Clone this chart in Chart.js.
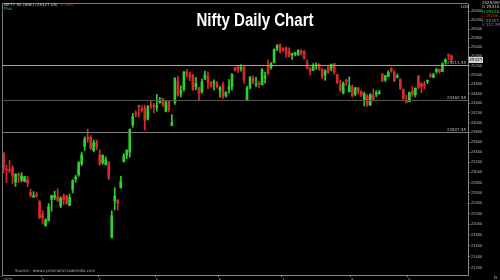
<!DOCTYPE html>
<html>
<head>
<meta charset="utf-8">
<script src="https://cdn.jsdelivr.net/npm/chart.js@4.4.1/dist/chart.umd.min.js"></script>
<style>
  html, body { margin: 0; padding: 0; background: #000; }
  #wrap { width: 500px; height: 280px; }
</style>
</head>
<body>
<div id="wrap"><canvas id="chart" width="500" height="280"></canvas></div>
<script>
// 日付 (2025年, 営業日)
const dates = [
  '02-11','02-12','02-13','02-14','02-17','02-18','02-19','02-20','02-21','02-24','02-25','02-27','02-28',
  '03-03','03-04','03-05','03-06','03-07','03-10','03-11','03-12','03-13','03-17','03-18','03-19','03-20','03-21','03-24','03-25','03-26','03-27','03-28',
  '04-01','04-02','04-03','04-04','04-07','04-08','04-09','04-11','04-15','04-16','04-17','04-21','04-22','04-23','04-24','04-25','04-28','04-29','04-30',
  '05-02','05-05','05-06','05-07','05-08','05-09','05-12','05-13','05-14','05-15','05-16','05-19','05-20','05-21','05-22','05-23','05-26','05-27','05-28','05-29','05-30',
  '06-02','06-03','06-04','06-05','06-06','06-09','06-10','06-11','06-12','06-13','06-16','06-17','06-18','06-19','06-20','06-23','06-24','06-25','06-26','06-27','06-30',
  '07-01','07-02','07-03','07-04','07-07','07-08','07-09','07-10','07-11','07-14','07-15','07-16','07-17','07-18','07-21','07-22','07-23','07-24','07-25','07-28','07-29','07-30','07-31',
  '08-01','08-04','08-05','08-06','08-07','08-08','08-11','08-12','08-13','08-14','08-18','08-19','08-20','08-21','08-22','08-25','08-26','08-28','08-29',
  '09-01','09-02','09-03','09-04','09-05','09-08','09-09','09-10','09-11','09-12','09-15','09-16','09-17','09-18','09-19'
];

const opens = [
  23383,23050,23055,23096,22809,22963,22847,22821,22857,22609,22516,22568,22433,
  22194,21974,22073,22476,22509,22521,22345,22537,22541,22353,22662,22874,22951,23169,23515,23701,23700,23433,23600,
  23341,23192,23151,23191,21758,22447,22460,22695,23208,23344,23402,23949,24185,24357,24277,24289,24070,24370,24342,
  24311,24419,24500,24233,24431,23935,24420,24865,24613,24694,25064,25005,24996,24745,24733,24639,24919,24956,24832,24825,24812,
  24669,24786,24560,24691,24749,25161,25196,25134,25164,24474,24733,24919,24788,24803,24787,24939,25179,25150,25268,25576,25661,
  25551,25588,25505,25428,25451,25427,25514,25512,25256,25149,25094,25196,25230,25108,24999,25167,25139,25243,25010,24782,24609,24890,24642,
  24734,24596,24720,24641,24464,24544,24371,24563,24586,24607,25019,24891,24965,25142,25064,24949,24900,24695,24466,
  24432,24654,24580,24980,24818,24802,24864,24992,24945,25074,25118,25073,25276,25441,25410
];
const highs = [
  23390,23144,23235,23133,22975,22992,22992,22923,22921,22668,22625,22613,22450,
  22261,22106,22395,22556,22633,22677,22522,22578,22558,22577,22858,22940,23216,23402,23708,23869,23736,23646,23649,
  23450,23350,23306,23214,22255,22698,22468,22924,23368,23452,23872,24190,24242,24359,24347,24365,24355,24457,24396,
  24589,24526,24510,24449,24447,24164,24944,24973,24767,25070,25116,25062,25010,24946,24737,24909,25079,25063,24864,24892,24863,
  24754,24845,24644,24899,25029,25161,25199,25223,25196,24754,24967,24982,24947,24863,25136,25058,25318,25266,25565,25654,25669,
  25593,25608,25587,25470,25489,25548,25548,25525,25323,25152,25245,25255,25238,25144,25111,25182,25233,25247,25010,24889,24848,24903,24956,
  24784,24736,24733,24671,24634,24585,24602,24702,24664,24674,25022,24992,25089,25154,25085,25022,24920,24702,24572,
  24636,24756,24724,24980,24833,24864,24891,25036,25037,25139,25124,25261,25346,25449,25429
];
const lows = [
  22986,22798,22992,22774,22725,22801,22814,22812,22720,22519,22518,22508,22105,
  22004,21964,22061,22245,22464,22429,22314,22377,22378,22353,22599,22807,22923,23132,23433,23601,23452,23412,23450,
  23136,23158,23146,22858,21743,22271,22270,22695,23207,23273,23298,23903,24119,24119,24216,23847,24054,24290,24198,
  24238,24400,24331,24221,24220,23935,24378,24547,24535,24653,24954,24876,24669,24686,24462,24614,24900,24705,24737,24677,24717,
  24526,24502,24530,24613,24674,25077,25049,25081,24825,24473,24703,24813,24750,24733,24784,24825,24999,25125,25259,25523,25470,
  25501,25378,25384,25331,25407,25425,25424,25341,25129,25001,25089,25121,25101,24918,24882,25036,25085,25018,24806,24646,24598,24771,24635,
  24535,24554,24590,24539,24345,24337,24347,24452,24539,24588,24852,24858,24963,25054,24859,24935,24689,24481,24405,
  24432,24543,24533,24700,24621,24703,24815,24942,24940,25037,25035,25072,25229,25329,25286
];
const closes = [
  23071,23045,23031,22929,22959,22945,22932,22913,22795,22553,22547,22545,22125,
  22119,22083,22337,22544,22552,22460,22497,22470,22397,22509,22834,22907,23190,23350,23658,23668,23486,23591,23519,
  23165,23332,23250,22904,22161,22535,22399,22829,23328,23437,23851,24125,24167,24328,24246,24039,24328,24335,24334,
  24346,24461,24380,24414,24273,24008,24924,24578,24666,25062,25019,24945,24683,24813,24609,24853,25001,24826,24752,24833,24750,
  24716,24542,24620,24751,25003,25103,25104,25141,24888,24718,24946,24853,24812,24793,25112,24972,25044,25245,25549,25637,25517,
  25542,25453,25405,25461,25461,25523,25476,25355,25150,25082,25196,25212,25112,24968,25091,25061,25220,25063,24837,24681,24821,24855,24768,
  24565,24723,24650,24574,24597,24363,24585,24487,24619,24631,24877,24980,25051,25084,24870,24968,24712,24501,24427,
  24625,24580,24716,24734,24741,24773,24869,24973,25005,25114,25069,25239,25330,25424,25327
];

// 右軸の目盛り
const yTicks = [21200,21400,21600,21800,22000,22200,22400,22600,22800,23000,23200,23400,23600,23800,
  24000,24200,24400,24600,24800,25000,25200,25400,25600,25800,26000,26200,26400];

// 水平ライン (サポート/レジスタンス)
const levels = [25213.55, 24462.55, 23807.55];
const levelColors = ['#a4a4a4', '#555555', '#7c7c7c'];

const UP = '#2fd12f';
const DOWN = '#d82a2a';

const candleColors = opens.map((o, i) => closes[i] >= o ? UP : DOWN);
const labels = dates.concat(['', '', '', '', '']); // 右側の余白

// 月の変わり目だけラベルを表示
function monthLabel(index) {
  const d = dates[index];
  if (!d) return '';
  if (index === 0) return '2025';
  const m = d.slice(0, 2);
  if (m !== dates[index - 1].slice(0, 2)) return String(parseInt(m, 10));
  return '';
}

const overlay = {
  id: 'overlay',
  afterDraw(chart) {
    const ctx = chart.ctx;
    const { left, right, top, bottom } = chart.chartArea;
    const y = chart.scales.y;
    ctx.save();

    // 枠線
    ctx.strokeStyle = '#777';
    ctx.lineWidth = 1;
    ctx.beginPath();
    ctx.moveTo(left + 0.5, top);
    ctx.lineTo(left + 0.5, bottom);
    ctx.moveTo(left, top - 0.5);
    ctx.lineTo(right, top - 0.5);
    ctx.stroke();

    // 水平ライン
    levels.forEach((v, i) => {
      const py = Math.round(y.getPixelForValue(v)) + 0.5;
      ctx.strokeStyle = levelColors[i];
      ctx.beginPath();
      ctx.moveTo(left, py);
      ctx.lineTo(right, py);
      ctx.stroke();
      ctx.fillStyle = '#bbb';
      ctx.font = '4px "DejaVu Sans"';
      ctx.textAlign = 'right';
      ctx.textBaseline = 'bottom';
      ctx.fillText(v.toFixed(2), right - 2, py - 0.5);
    });

    // タイトル
    ctx.font = 'bold 19px "Liberation Sans"';
    ctx.fillStyle = '#fff';
    ctx.textAlign = 'center';
    ctx.textBaseline = 'alphabetic';
    const title = 'Nifty Daily Chart';
    const w = ctx.measureText(title).width;
    ctx.save();
    ctx.translate(255, 26);
    ctx.scale(117 / w, 1);
    ctx.fillText(title, 0, 0);
    ctx.restore();

    // 左上のヘッダー
    ctx.font = '4px "DejaVu Sans"';
    ctx.textAlign = 'left';
    ctx.textBaseline = 'middle';
    ctx.fillStyle = '#ccc';
    const head = 'NIFTY 50 (NSE) (25327.05)';
    ctx.fillText(head, 4, 5);
    ctx.fillStyle = DOWN;
    ctx.fillText('-0.38%', 6 + ctx.measureText(head).width, 5);
    ctx.fillStyle = UP;
    ctx.fillText('Plus', 4, 9);

    // 右上の情報
    ctx.fillStyle = '#cc9';
    ctx.fillText('LOG', 461, 7);
    const info = [['2025/09/19', '#ccc'], ['O 25410.20', '#ccc'], ['H 25428.75', UP],
      ['L 25286.30', DOWN], ['C 25327.05', UP], ['V 312.5M', '#b060e0']];
    info.forEach((r, i) => {
      ctx.fillStyle = r[1];
      ctx.fillText(r[0], 482, 3 + i * 4.4);
    });

    // 最終価格
    const last = closes[closes.length - 1];
    const lp = Math.round(y.getPixelForValue(last));
    ctx.fillStyle = '#d4d4d4';
    ctx.fillRect(right + 1, lp - 3, 14, 6);
    ctx.fillStyle = '#000';
    ctx.fillText(last.toFixed(2), right + 1.5, lp);

    // 出典
    ctx.fillStyle = '#aaa';
    ctx.fillText('Source : www.systematictradeindia.com', 15, bottom - 4);
    ctx.fillStyle = '#ccc';
    ctx.fillText('D', 494, 278);

    ctx.restore();
  }
};

new Chart(document.getElementById('chart'), {
  type: 'bar',
  data: {
    labels: labels,
    datasets: [
      {
        label: 'wick',
        data: lows.map((l, i) => [l, highs[i]]),
        backgroundColor: candleColors,
        barThickness: 1,
        grouped: false
      },
      {
        label: 'body',
        data: opens.map((o, i) => [o, closes[i]]),
        backgroundColor: candleColors,
        barThickness: 2,
        minBarLength: 1,
        grouped: false
      }
    ]
  },
  options: {
    responsive: false,
    animation: false,
    layout: { padding: { left: 2, top: 4, right: 0, bottom: 0 } },
    plugins: { legend: { display: false }, tooltip: { enabled: false } },
    scales: {
      x: {
        type: 'category',
        offset: true,
        grid: {
          drawOnChartArea: false,
          drawTicks: true,
          tickLength: 2,
          color: c => monthLabel(c.index) ? '#888' : 'rgba(0,0,0,0)'
        },
        border: { display: true, color: '#888' },
        ticks: {
          autoSkip: false,
          maxRotation: 0,
          align: 'inner',
          padding: 0,
          color: '#bbb',
          font: { size: 4 },
          callback: (v, i) => monthLabel(i)
        },
        afterFit: s => { s.height = 5; }
      },
      y: {
        type: 'logarithmic',
        position: 'right',
        min: 21066,
        max: 26563,
        afterBuildTicks: s => { s.ticks = yTicks.map(v => ({ value: v })); },
        grid: { drawOnChartArea: false, tickLength: 2, color: '#777' },
        border: { display: true, color: '#888' },
        ticks: {
          padding: 1,
          color: '#bbb',
          font: { size: 4 },
          callback: v => String(v)
        },
        afterFit: s => { s.width = 32; }
      }
    }
  },
  plugins: [overlay]
});
</script>
</body>
</html>
